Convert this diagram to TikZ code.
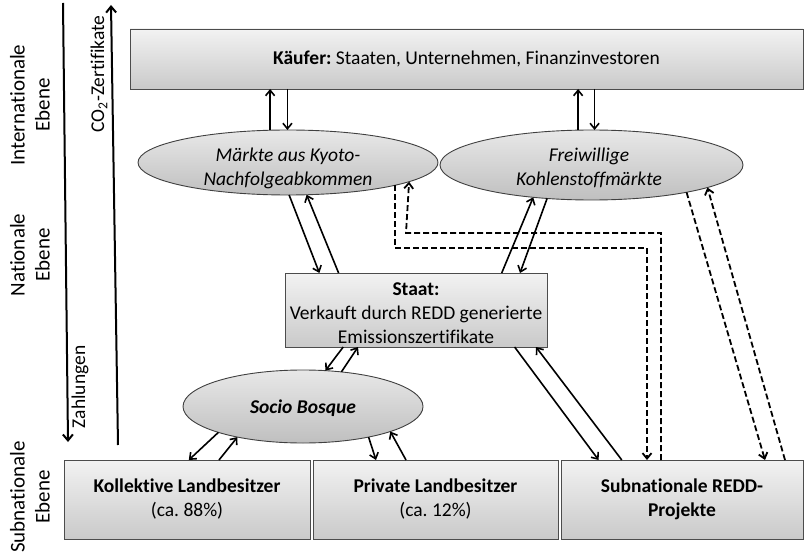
\documentclass[tikz,border=0pt]{standalone}
\usepackage{fontspec}
\setmainfont{Carlito}[Ligatures=NoCommon]
\usetikzlibrary{arrows.meta,shapes.geometric}
\frenchspacing
\begin{document}
\begin{tikzpicture}[x=1pt,y=-1pt,
  font=\fontsize{19.5}{24}\selectfont,
  boxnode/.style={rectangle,draw=black!70,line width=0.9pt,top color=gray!10,bottom color=gray!42,
    inner sep=0pt,outer sep=0pt,align=center},
  ellnode/.style={ellipse,draw=black!75,line width=0.9pt,top color=gray!18,bottom color=gray!50,
    inner sep=0pt,outer sep=0pt},
  txt/.style={align=center,inner sep=0pt},
  arr/.style={line width=1.6pt,-{Straight Barb[length=5.5pt,width=9pt]}},
  dsh/.style={arr,line width=1.8pt,dash pattern=on 6pt off 3pt},
  bigarr/.style={line width=2pt,-{Straight Barb[length=6pt,width=10pt]}},
  lbl/.style={rotate=90,align=center,inner sep=0pt,font=\fontsize{21}{25}\selectfont}]
\useasboundingbox (0,0) rectangle (805,553);

% nodes
\node[boxnode,minimum width=673pt,minimum height=60pt] (kauf) at (466.5,59)
  {\textbf{Käufer:} Staaten, Unternehmen, Finanzinvestoren};
\node[ellnode,minimum width=300pt,minimum height=65pt] (e1) at (288,162.5) {};
\node[txt] (e1t) at (288,168) {\itshape Märkte aus Kyoto-\\\itshape Nachfolgeabkommen};
\node[ellnode,minimum width=303pt,minimum height=70pt] (e2) at (591.5,165) {};
\node[txt] (e2t) at (589,168) {\itshape Freiwillige\\\itshape Kohlenstoffmärkte};
\node[boxnode,minimum width=262pt,minimum height=74pt] (st) at (416,310) {};
\node[txt] (stt) at (416,313) {\textbf{Staat:}\\Verkauft durch REDD generierte\\Emissionszertifikate};
\node[ellnode,minimum width=240pt,minimum height=73pt] (sb) at (303,406.5) {};
\node[txt] (sbt) at (303,408) {\bfseries\itshape Socio Bosque};
\node[boxnode,minimum width=246pt,minimum height=79pt] (ko) at (187,499.5)
  {\textbf{Kollektive Landbesitzer}\\(ca. 88\%)};
\node[boxnode,minimum width=245pt,minimum height=79pt] (pr) at (435.5,499.5)
  {\textbf{Private Landbesitzer}\\(ca. 12\%)};
\node[boxnode,minimum width=242pt,minimum height=79pt] (sn) at (682,499.5)
  {\textbf{Subnationale REDD-}\\\textbf{Projekte}};

% side labels
\node[lbl] (lint) at (30,105) {Internationale\\Ebene};
\node[lbl] (lnat) at (30,255) {Nationale\\Ebene};
\node[lbl] (lsub) at (30,497) {Subnationale\\Ebene};
\node[lbl,font=\fontsize{19.5}{24}\selectfont] (lco) at (99,74) {CO\textsubscript{2}-Zertifikate};
\node[lbl,font=\fontsize{19.5}{24}\selectfont] (lza) at (80,387) {Zahlungen};

% side arrows
\coordinate (z1) at (63,3);
\coordinate (z2) at (68,442);
\coordinate (c1) at (118,445);
\coordinate (c2) at (111,5);
\draw[bigarr] (z1) -- (z2);
\draw[bigarr] (c1) -- (c2);

% Kaeufer <-> markets
\draw[arr] (e1.119.2) -- (e1.119.2 |- kauf.south);
\draw[arr] (kauf.south -| e1.91.8) -- (e1.91.8);
\draw[arr] (e2.111.2) -- (e2.111.2 |- kauf.south);
\draw[arr] (kauf.south -| e2.85.9) -- (e2.85.9);

% markets <-> Staat
\draw[arr] (e1.-88.2) -- ([xshift=-96.6pt]st.north);
\draw[arr] ([xshift=-77.4pt]st.north) -- (e1.-60.8);
\draw[arr] ([xshift=85.7pt]st.north) -- (e2.-151.7);
\draw[arr] (e2.-143.3) -- ([xshift=104pt]st.north);

% Staat <-> Socio Bosque
\draw[arr] ([xshift=-72.8pt]st.south) -- (sb.58);
\draw[arr] (sb.42.6) -- ([xshift=-58pt]st.south);

% Socio Bosque <-> landowners
\draw[arr] (sb.-163.1) -- ([xshift=1.8pt]ko.north);
\draw[arr] ([xshift=32pt]ko.north) -- (sb.-155.2);
\draw[arr] (sb.-25.3) -- ([xshift=-59.5pt]pr.north);
\draw[arr] ([xshift=-29.5pt]pr.north) -- (sb.-16.6);

% Staat <-> subnational projects
\draw[arr] ([xshift=98.6pt]st.south) -- ([xshift=-83.4pt]sn.north);
\draw[arr] ([xshift=-60.2pt]sn.north) -- ([xshift=120pt]st.south);

% dashed connections
\coordinate (a2) at (647,248);
\coordinate (b2) at (406,233);
\draw[dsh] (e1.-12.46) |- (a2) -- ([xshift=-35pt]sn.north);
\draw[dsh] ([xshift=-21pt]sn.north) |- (b2) -- (e1.-9.65);
\draw[dsh] (e2.-16.87) -- ([xshift=83pt]sn.north);
\draw[dsh] ([xshift=103pt]sn.north) -- (e2.-11.93);
\end{tikzpicture}
\end{document}
